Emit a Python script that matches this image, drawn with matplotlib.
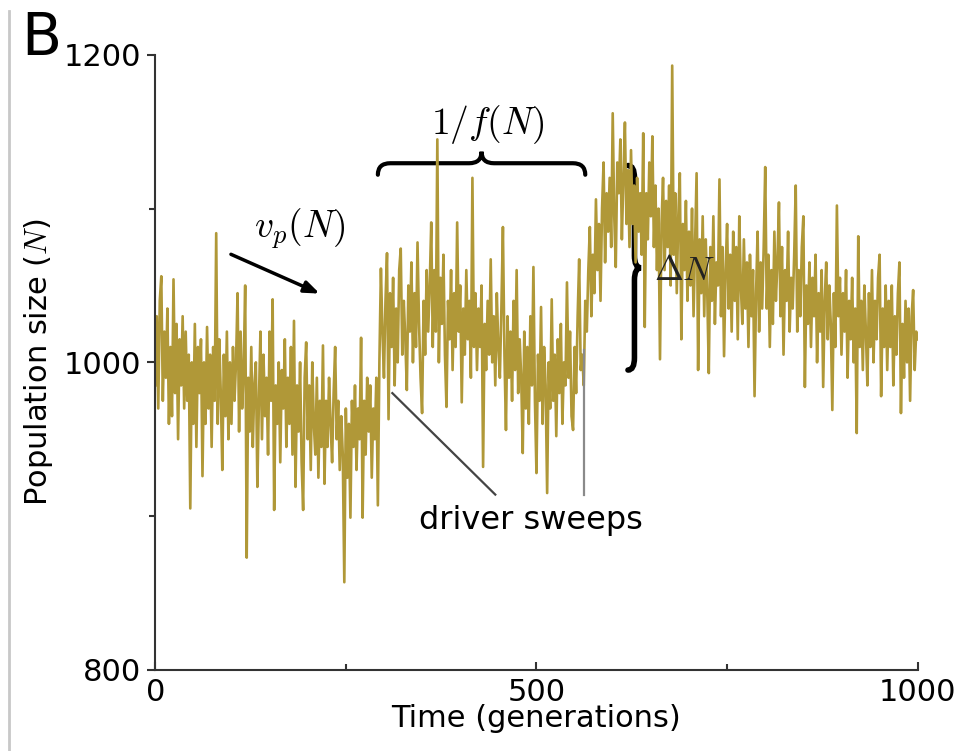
import numpy as np
import matplotlib
matplotlib.use("Agg")
import matplotlib.pyplot as plt
from matplotlib.path import Path
from matplotlib.patches import PathPatch
from matplotlib.lines import Line2D

# population size, one value every 2 generations
step = 2
population = [
    985, 1030, 970, 1040, 1056, 975, 1020, 990, 1035, 960,
    1010, 965, 1054, 980, 1025, 950, 1015, 985, 1030, 970,
    1020, 975, 1005, 905, 1000, 960, 1025, 945, 1010, 980,
    1015, 926, 1000, 960, 1023, 970, 1005, 945, 1010, 975,
    1084, 960, 1015, 980, 930, 1005, 965, 1020, 950, 1000,
    960, 1010, 975, 1000, 1045, 955, 1020, 970, 995, 1050,
    873, 990, 955, 1010, 945, 985, 1000, 919, 975, 1020,
    950, 1005, 965, 990, 940, 1020, 975, 1041, 904, 985,
    960, 1000, 935, 995, 970, 1015, 945, 990, 960, 1010,
    940, 1027, 919, 985, 955, 1000, 935, 904, 990, 1013,
    950, 985, 930, 1000, 960, 940, 990, 925, 975, 945,
    1011, 921, 975, 945, 990, 960, 935, 980, 1010, 950,
    975, 930, 965, 940, 857, 970, 925, 960, 899, 975,
    945, 985, 930, 970, 950, 1016, 899, 975, 940, 990,
    955, 985, 925, 970, 950, 990, 907, 1000, 1061, 1020,
    990, 1040, 1071, 963, 1045, 1010, 1055, 985, 1035, 1000,
    1060, 1074, 1005, 1040, 1015, 982, 1050, 1020, 1065, 1000,
    1045, 1010, 1078, 1025, 990, 967, 1040, 1005, 1060, 1020,
    1050, 1091, 1010, 1060, 1020, 1145, 1000, 1055, 1025, 1070,
    1005, 971, 1040, 1015, 1060, 995, 1045, 1010, 1091, 1020,
    1050, 974, 1035, 1005, 1060, 1015, 1040, 990, 1120, 1010,
    1045, 995, 1035, 1010, 1050, 932, 1025, 995, 1040, 1005,
    1067, 1000, 1030, 985, 1045, 1010, 990, 1035, 1088, 1005,
    956, 1030, 990, 1020, 975, 1040, 995, 1060, 980, 1015,
    990, 941, 1020, 970, 1010, 960, 1030, 985, 1062, 975,
    928, 1005, 975, 1036, 960, 1010, 985, 915, 1000, 970,
    1041, 975, 1005, 952, 1015, 980, 1025, 960, 1000, 985,
    1052, 990, 1020, 965, 956, 1010, 980, 1030, 1067, 995,
    1005, 985, 1040, 1020, 1060, 1088, 1030, 1070, 1045, 1106,
    1060, 1090, 1040, 1100, 1130, 1065, 1110, 1085, 1120, 1075,
    1162, 1095, 1062, 1130, 1110, 1145, 1080, 1120, 1156, 1090,
    1125, 1075, 1138, 1090, 1115, 1065, 1120, 1085, 1110, 1070,
    1149, 1023, 1110, 1080, 1130, 1095, 1147, 1075, 1115, 1060,
    1100, 1002, 1090, 1120, 1060, 1105, 1075, 1115, 1050, 1193,
    1070, 1110, 1045, 1095, 1123, 1015, 1090, 1060, 1105, 1040,
    1085, 1050, 1100, 1030, 1075, 1123, 995, 1080, 1045, 1095,
    1030, 1080, 1045, 993, 1075, 1040, 1095, 1025, 1065, 1050,
    1119, 1030, 1075, 1004, 1060, 1090, 1035, 1070, 1020, 1085,
    1040, 1075, 1015, 1095, 1050, 1025, 1080, 1035, 1065, 1010,
    1070, 1030, 1060, 978, 1045, 1085, 1020, 1065, 1035, 1075,
    1127, 1035, 1070, 1010, 1060, 1025, 1085, 1040, 1065, 1104,
    1030, 1075, 1005, 1060, 1040, 1085, 1020, 1055, 1035, 1070,
    1115, 1020, 1060, 1030, 1075, 1095, 984, 1050, 1025, 1065,
    1010, 1055, 1030, 1070, 1000, 1045, 1020, 1060, 984, 1040,
    1065, 1015, 1050, 1025, 969, 1045, 1010, 1102, 1030, 1055,
    1005, 1045, 1020, 1060, 990, 1040, 1015, 1055, 1000, 1035,
    954, 1082, 1010, 1040, 995, 1050, 1020, 985, 1045, 1010,
    1060, 1000, 1040, 1015, 1055, 1070, 978, 1035, 1010, 1050,
    995, 1040, 1010, 1050, 985, 1030, 1005, 1045, 1065, 967,
    1025, 990, 1040, 1000, 1035, 975, 1030, 1047, 995, 1020,
    1015,
]
generations = np.arange(len(population)) * step

sweep_times = [295, 562]

plt.rcParams['mathtext.fontset'] = 'cm'
plt.rcParams['font.family'] = 'DejaVu Sans'


def brace(start, end, depth):
    """Curly brace path from start to end, bulging by depth."""
    a, b = start, end
    m = (a + b) / 2.0
    q = (b - a) * 0.06
    h = depth / 2.0
    pts = [(a, 0), (a, h), (a + q, h),
           (m - q, h), (m, h), (m, depth),
           (m, h), (m + q, h),
           (b - q, h), (b, h), (b, 0)]
    codes = [Path.MOVETO, Path.CURVE3, Path.CURVE3,
             Path.LINETO, Path.CURVE3, Path.CURVE3,
             Path.CURVE3, Path.CURVE3,
             Path.LINETO, Path.CURVE3, Path.CURVE3]
    return pts, codes


fig = plt.figure(figsize=(9.64, 7.51), dpi=100)
ax = fig.add_axes([0.161, 0.108, 0.791, 0.819])

ax.plot(generations, population, color='#b09838', lw=1.9)

ax.set_xlim(0, 1000)
ax.set_ylim(800, 1200)
ax.set_xticks([0, 500, 1000])
ax.set_xticks([250, 750], minor=True)
ax.set_yticks([800, 1000, 1200])
ax.set_yticks([900, 1100], minor=True)

for s in ['top', 'right']:
    ax.spines[s].set_visible(False)
for s in ['left', 'bottom']:
    ax.spines[s].set_color('#333333')
    ax.spines[s].set_linewidth(1.5)

ax.tick_params(axis='x', which='both', direction='in', colors='#333333',
               labelcolor='black', labelsize=22, pad=6)
ax.tick_params(axis='y', which='both', direction='out', colors='#333333',
               labelcolor='black', labelsize=22, pad=4)
ax.tick_params(which='major', length=6, width=1.5)
ax.tick_params(which='minor', length=4, width=1.5)

ax.set_xlabel('Time (generations)', fontsize=22, labelpad=-2)
ax.set_ylabel('Population size ($N$)', fontsize=22, labelpad=6)

# horizontal brace over the plateau
y0 = 1122
pts, codes = brace(292, 564, 15)
pts = [(x, y0 + d) for x, d in pts]
ax.add_patch(PathPatch(Path(pts, codes), fill=False, lw=3, color='black',
                       capstyle='round', clip_on=False))
ax.text(436, 1141, r'$1/f(N)$', fontsize=27, ha='center', va='bottom')

# vertical brace for the jump size
x0 = 620
pts, codes = brace(995, 1128, 17)
pts = [(x0 + d, y) for y, d in pts]
ax.add_patch(PathPatch(Path(pts, codes), fill=False, lw=4, color='black',
                       capstyle='round'))
ax.text(654, 1060, r'$\Delta N$', fontsize=25, ha='left', va='center',
        color='#222222')

# velocity arrow
ax.annotate('', xy=(219, 1044), xytext=(96, 1071),
            arrowprops=dict(arrowstyle='-|>,head_length=0.9,head_width=0.35',
                            color='black', lw=2.5))
ax.text(190, 1087, r'$v_p(N)$', fontsize=27, ha='center', va='center')

# driver sweeps
ax.plot([311, 446], [980, 914], color='#444444', lw=1.6)
ax.plot([sweep_times[1], sweep_times[1]], [1008, 914], color='#8a8a8a', lw=1.6)
ax.text(493, 897, 'driver sweeps', fontsize=23, ha='center', va='center')

fig.text(0.022, 0.927, 'B', fontsize=42, ha='left', va='baseline')
fig.add_artist(Line2D([0.009, 0.009], [0.0, 0.985], color='#c8c8c8', lw=2))

fig.savefig('out.png', dpi=100)
